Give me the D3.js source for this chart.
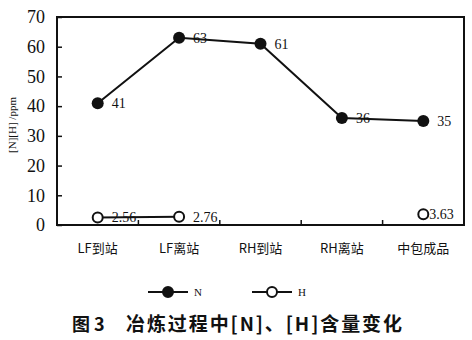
<!DOCTYPE html>
<html>
<head>
<meta charset="utf-8">
<script src="https://cdn.jsdelivr.net/npm/d3@7"></script>
<style>
body { margin: 0; background: #fff; }
text { fill: #111; }
</style>
</head>
<body>
<div id="chart"></div>
<script>
var categories = ["LF到站", "LF离站", "RH到站", "RH离站", "中包成品"];
var nValues = [41, 63, 61, 36, 35];
var hValues = [2.56, 2.76, null, null, 3.63];
var yTicks = [0, 10, 20, 30, 40, 50, 60, 70];

var width = 472, height = 340;
var margin = {top: 17, right: 8, bottom: 115, left: 57};
var w = width - margin.left - margin.right,
    h = height - margin.top - margin.bottom;

var svg = d3.select("#chart").append("svg")
  .attr("width", width)
  .attr("height", height);

var g = svg.append("g")
  .attr("transform", "translate(" + margin.left + "," + margin.top + ")");

var x = d3.scaleBand().domain(categories).range([0, w]);
var y = d3.scaleLinear().domain([0, 70]).range([h, 0]);

// frame
g.append("rect")
  .attr("width", w).attr("height", h)
  .style("fill", "none").style("stroke", "#111").style("stroke-width", 2);

// y axis, ticks inside
var yAxis = g.append("g")
  .call(d3.axisLeft(y).tickValues(yTicks).tickSize(-5).tickPadding(12));
yAxis.select(".domain").remove();
yAxis.selectAll("line").style("stroke", "#111").style("stroke-width", 1.5);
yAxis.selectAll("text")
  .style("font-family", "'Liberation Serif', serif")
  .style("font-size", "18px").style("fill", "#111");

// x axis ticks at band edges, inside
var edges = categories.slice(1).map(function(c) { return x(c); });
g.selectAll(".xtick").data(edges).enter().append("line")
  .attr("x1", function(d) { return d; }).attr("x2", function(d) { return d; })
  .attr("y1", h).attr("y2", h - 5)
  .style("stroke", "#111").style("stroke-width", 1.5);

g.selectAll(".xlab").data(categories).enter().append("text")
  .attr("x", function(d) { return x(d) + x.bandwidth() / 2; })
  .attr("y", h + 28)
  .attr("text-anchor", "middle")
  .style("font-family", "'Noto Sans CJK SC', sans-serif")
  .style("font-size", "13px")
  .text(function(d) { return d; });

var cx = function(i) { return x(categories[i]) + x.bandwidth() / 2; };

// N series
var nData = nValues.map(function(v, i) { return {i: i, v: v}; });
g.append("path").datum(nData)
  .attr("d", d3.line().x(function(d) { return cx(d.i); }).y(function(d) { return y(d.v); }))
  .style("fill", "none").style("stroke", "#111").style("stroke-width", 2);
g.selectAll(".np").data(nData).enter().append("circle")
  .attr("cx", function(d) { return cx(d.i); })
  .attr("cy", function(d) { return y(d.v); })
  .attr("r", 6).style("fill", "#111");
g.selectAll(".nl").data(nData).enter().append("text")
  .attr("x", function(d) { return cx(d.i) + 14; })
  .attr("y", function(d) { return y(d.v) + 5; })
  .style("font-family", "'Liberation Serif', serif").style("font-size", "14px")
  .text(function(d) { return d.v; });

// H series
var hData = hValues.map(function(v, i) { return {i: i, v: v}; });
g.append("path").datum(hData)
  .attr("d", d3.line().defined(function(d) { return d.v !== null; })
    .x(function(d) { return cx(d.i); }).y(function(d) { return y(d.v); }))
  .style("fill", "none").style("stroke", "#111").style("stroke-width", 2);
var hPts = hData.filter(function(d) { return d.v !== null; });
g.selectAll(".hp").data(hPts).enter().append("circle")
  .attr("cx", function(d) { return cx(d.i); })
  .attr("cy", function(d) { return y(d.v); })
  .attr("r", 5).style("fill", "#fff").style("stroke", "#111").style("stroke-width", 2);
g.selectAll(".hl").data(hPts).enter().append("text")
  .attr("x", function(d) { return cx(d.i) + (d.i === 4 ? 6 : 14); })
  .attr("y", function(d) { return y(d.v) + 5; })
  .style("font-family", "'Liberation Serif', serif").style("font-size", "14px")
  .text(function(d) { return d.v.toFixed(2); });

// y title
svg.append("text")
  .attr("transform", "translate(16,125) rotate(-90)")
  .attr("text-anchor", "middle")
  .style("font-family", "'Liberation Serif', serif").style("font-size", "11px")
  .text("[N][H] /ppm");

// legend
var legend = svg.append("g").attr("transform", "translate(0,292)");
[{name: "N", x: 148, fill: "#111"}, {name: "H", x: 252, fill: "#fff"}].forEach(function(s) {
  legend.append("line").attr("x1", s.x).attr("x2", s.x + 40)
    .style("stroke", "#111").style("stroke-width", 2);
  legend.append("circle").attr("cx", s.x + 20).attr("r", 5)
    .style("fill", s.fill).style("stroke", "#111").style("stroke-width", 2);
  legend.append("text").attr("x", s.x + 46).attr("y", 4)
    .style("font-family", "'Liberation Serif', serif").style("font-size", "11px")
    .text(s.name);
});

// caption
svg.append("text").attr("x", 72).attr("y", 331)
  .style("font-family", "'Noto Sans CJK SC', sans-serif").style("font-size", "18px")
  .style("font-weight", "bold")
  .text("图 3");
svg.append("text").attr("x", 126).attr("y", 331)
  .attr("textLength", 276).attr("lengthAdjust", "spacing")
  .style("font-family", "'Noto Sans CJK SC', sans-serif").style("font-size", "19px")
  .style("font-weight", "bold")
  .text("冶炼过程中[N]、[H]含量变化");
</script>
</body>
</html>
